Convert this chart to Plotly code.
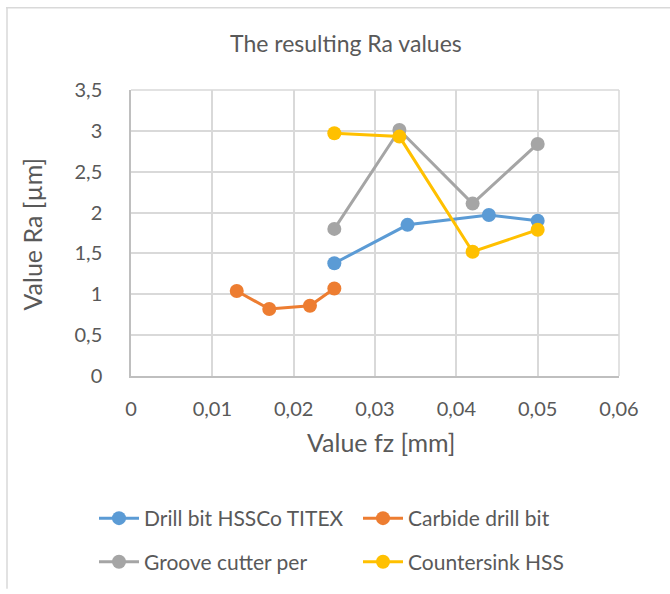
import plotly.graph_objects as go

# ---- data ----
series_names = ["Drill bit HSSCo TITEX", "Carbide drill bit", "Groove cutter per", "Countersink HSS"]
fz_drill = [0.025, 0.034, 0.044, 0.050]
ra_drill = [1.38, 1.85, 1.97, 1.90]
fz_carbide = [0.013, 0.017, 0.022, 0.025]
ra_carbide = [1.04, 0.82, 0.86, 1.07]
fz_groove = [0.025, 0.033, 0.042, 0.050]
ra_groove = [1.80, 3.01, 2.11, 2.84]
fz_counter = [0.025, 0.033, 0.042, 0.050]
ra_counter = [2.97, 2.93, 1.52, 1.79]
x_ticks = [0, 0.01, 0.02, 0.03, 0.04, 0.05, 0.06]
x_tick_labels = ["0", "0,01", "0,02", "0,03", "0,04", "0,05", "0,06"]
y_ticks = [0, 0.5, 1, 1.5, 2, 2.5, 3, 3.5]
y_tick_labels = ["0", "0,5", "1", "1,5", "2", "2,5", "3", "3,5"]
chart_title = "The resulting Ra values"
x_title = "Value fz [mm]"
y_title = "Value Ra [µm]"

colors = ["#5B9BD5", "#ED7D31", "#A5A5A5", "#FFC000"]
xs = [fz_drill, fz_carbide, fz_groove, fz_counter]
ys = [ra_drill, ra_carbide, ra_groove, ra_counter]
legend_ids = ["legend", "legend2", "legend3", "legend4"]

W, H = 670, 594
L, R, T, B = 131, 51, 90, 215
pw, ph = W - L - R, H - T - B

def px_x(px):
    return (px - L) / pw

def px_y(py):
    return (H - B - py) / ph

TXT = "#595959"
FONT = "Lato"

fig = go.Figure()
for name, x, y, c, lg in zip(series_names, xs, ys, colors, legend_ids):
    fig.add_trace(go.Scatter(
        x=x, y=y, name=name, mode="lines+markers",
        line=dict(color=c, width=3),
        marker=dict(color=c, size=14),
        legend=lg,
    ))

# legend positions (left x, center y) in pixels
leg_pos = [(94, 523), (358, 523), (94, 567), (358, 567)]
leg_common = dict(font=dict(family=FONT, size=21, color=TXT), bgcolor="rgba(0,0,0,0)",
                  xanchor="left", yanchor="middle", itemwidth=40)
layout_legends = {}
for lg, (lx, ly) in zip(legend_ids, leg_pos):
    layout_legends[lg] = dict(x=px_x(lx), y=px_y(ly), **leg_common)

fig.update_layout(
    width=W, height=H,
    margin=dict(l=L, r=R, t=T, b=B),
    paper_bgcolor="white", plot_bgcolor="white",
    font=dict(family=FONT, color=TXT),
    showlegend=True,
    **layout_legends,
    xaxis=dict(
        range=[0, 0.06], tickvals=x_ticks, ticktext=x_tick_labels,
        showgrid=True, gridcolor="#D9D9D9", gridwidth=1.5,
        zeroline=False, showline=True, linecolor="#BFBFBF", linewidth=1.5,
        ticks="", tickfont=dict(family=FONT, size=20, color=TXT), ticklabelstandoff=14,
        fixedrange=True,
    ),
    yaxis=dict(
        range=[0, 3.5], tickvals=y_ticks, ticktext=y_tick_labels,
        showgrid=True, gridcolor="#D9D9D9", gridwidth=1.5,
        zeroline=False, showline=True, linecolor="#BFBFBF", linewidth=1.5,
        ticks="", tickfont=dict(family=FONT, size=20, color=TXT), ticklabelstandoff=23,
        fixedrange=True,
    ),
    annotations=[
        dict(text=chart_title, xref="paper", yref="paper",
             x=px_x(346), y=px_y(43), xanchor="center", yanchor="middle",
             showarrow=False, font=dict(family=FONT, size=23, color=TXT)),
        dict(text=x_title, xref="paper", yref="paper",
             x=px_x(381), y=px_y(446), xanchor="center", yanchor="middle",
             showarrow=False, font=dict(family=FONT, size=25, color=TXT)),
        dict(text=y_title, xref="paper", yref="paper", textangle=-90,
             x=px_x(32), y=px_y(236), xanchor="center", yanchor="middle",
             showarrow=False, font=dict(family=FONT, size=25, color=TXT)),
    ],
    shapes=[
        dict(type="line", xref="paper", yref="paper", x0=px_x(6), x1=px_x(670), y0=px_y(7), y1=px_y(7),
             line=dict(color="#D9D9D9", width=1.5)),
        dict(type="line", xref="paper", yref="paper", x0=px_x(7), x1=px_x(7), y0=px_y(7), y1=px_y(594),
             line=dict(color="#D9D9D9", width=1.5)),
        dict(type="line", xref="paper", yref="paper", x0=0, x1=1, y0=1, y1=1,
             line=dict(color="#D9D9D9", width=1.5), layer="below"),
        dict(type="line", xref="paper", yref="paper", x0=1, x1=1, y0=0, y1=1,
             line=dict(color="#D9D9D9", width=1.5), layer="below"),
    ],
)

fig.write_html("out.html", config={"displayModeBar": False},
               post_script="document.body.style.margin='0px';")
